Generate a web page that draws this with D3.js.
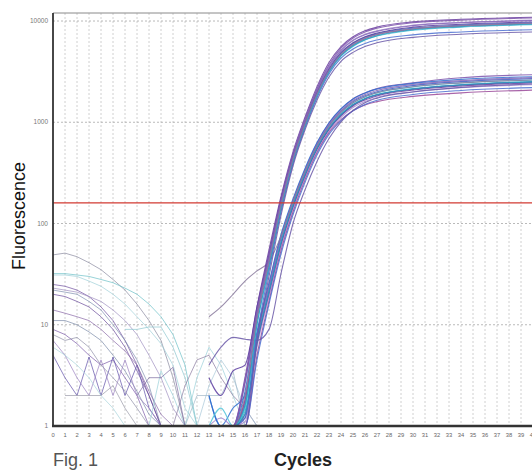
<!DOCTYPE html>
<html>
<head>
<meta charset="utf-8">
<title>Fluorescence vs Cycles</title>
<script src="https://d3js.org/d3.v7.min.js"></script>
<style>
  body { margin: 0; background: #fff; }
  text { font-family: "Liberation Sans", Arial, Helvetica, sans-serif; }
</style>
</head>
<body>
<div id="chart"></div>
<script>

// tick labels
var cycleTicks = d3.range(0, 41);
var fluorTicks = [1, 10, 100, 1000, 10000];
var threshold = 160;

// amplification curves: readings at these cycles
var ampCycles = [13, 14, 15, 16, 17, 18, 19, 20, 21, 22, 23, 24, 25, 26, 27, 30, 34, 40];

var upper1  = [1, 1, 1, 3, 15, 55, 185, 510, 1120, 2250, 3900, 5600, 7000, 8000, 8700, 9800, 10400, 10900];
var upper2  = [1, 1.2, 1, 2.6, 13, 48, 170, 480, 1050, 2100, 3600, 5200, 6500, 7400, 8000, 9100, 9700, 10200];
var upper3  = [2, 1, 1, 2.2, 12, 44, 155, 440, 980, 1950, 3300, 4800, 6000, 6900, 7500, 8500, 9100, 9600];
var upper4  = [1, 1, 1, 1.8, 11, 40, 145, 420, 950, 1900, 3200, 4600, 5800, 6700, 7300, 8300, 8900, 9400];
var upper5  = [1, 1.5, 1, 1.5, 10, 36, 135, 400, 900, 1800, 3100, 4500, 5600, 6500, 7100, 8100, 8700, 9200];
var upper6  = [3, 2, 3.5, 4, 15, 50, 175, 470, 1000, 2000, 3400, 4900, 6100, 7000, 7600, 8700, 9300, 9800];
var upper7  = [1, 1, 1, 1.2, 8, 34, 130, 390, 880, 1750, 3000, 4300, 5300, 6000, 6500, 7300, 7800, 8200];
var upper8  = [1, 1, 1, 2.8, 13, 46, 165, 460, 1020, 2050, 3500, 5100, 6400, 7300, 7900, 9000, 9600, 10100];
var upper9  = [1, 1, 1, 1.6, 10, 38, 140, 410, 920, 1850, 3150, 4550, 5700, 6550, 7150, 8200, 8800, 9300];
var upper10 = [1, 1, 1, 2, 12, 42, 150, 430, 960, 1900, 3250, 4700, 5900, 6800, 7400, 8400, 9000, 9500];
var upper11 = [1, 1, 1, 1, 7, 30, 120, 370, 840, 1650, 2800, 4000, 4900, 5600, 6100, 6900, 7400, 7800];
var upper12 = [1, 1, 1, 2.7, 14, 50, 175, 490, 1080, 2150, 3700, 5400, 6800, 7800, 8500, 9600, 10200, 10700];

var lower1  = [1, 1, 1, 1.8, 8, 25, 75, 170, 340, 620, 980, 1350, 1700, 1950, 2150, 2450, 2750, 2950];
var lower2  = [1, 1, 1, 1.6, 7.5, 23, 70, 160, 320, 590, 930, 1280, 1600, 1830, 2000, 2300, 2520, 2700];
var lower3  = [1, 1, 1, 1.4, 7, 22, 66, 152, 310, 560, 880, 1200, 1500, 1720, 1880, 2150, 2350, 2520];
var lower4  = [1, 1, 1, 1.2, 6.5, 20, 62, 145, 295, 540, 850, 1160, 1450, 1660, 1820, 2080, 2280, 2450];
var lower5  = [1, 1, 1, 1.1, 6, 19, 58, 138, 285, 520, 820, 1120, 1400, 1600, 1760, 2000, 2200, 2350];
var lower6  = [2, 1, 1.5, 2, 8.5, 26, 78, 175, 350, 630, 990, 1360, 1700, 1950, 2130, 2420, 2650, 2820];
var lower7  = [1, 1, 1, 1, 5, 17, 54, 130, 270, 500, 790, 1060, 1300, 1480, 1600, 1800, 1950, 2080];
var lower8  = [1, 1, 1, 1.5, 7.2, 22, 67, 155, 315, 575, 900, 1240, 1550, 1780, 1950, 2230, 2440, 2610];
var lower9  = [1, 1, 1, 1.3, 6.6, 21, 63, 148, 300, 550, 860, 1180, 1480, 1700, 1860, 2120, 2330, 2500];
var lower10 = [1, 1, 1, 1, 4.5, 16, 50, 122, 255, 475, 760, 1040, 1300, 1500, 1650, 1880, 2060, 2200];
var lower11 = [1, 1, 1, 1.7, 7.8, 24, 72, 165, 330, 600, 950, 1300, 1640, 1880, 2060, 2360, 2580, 2760];
var lower12 = [1, 1, 1, 1.3, 6.8, 21, 64, 150, 305, 555, 870, 1190, 1490, 1710, 1870, 2130, 2340, 2510];
var lower13 = [12, 15, 20, 27, 34, 42, 75, 165, 325, 585, 910, 1250, 1560, 1790, 1960, 2240, 2450, 2620];
var lower14 = [4, 6, 7.5, 7.2, 7, 9, 32, 100, 215, 410, 690, 1010, 1310, 1560, 1730, 1990, 2210, 2390];

// baseline noise, cycles 0..17 (null = not drawn)
var noise1  = [49, 51, 47, 41, 35, 28, 22, 16, 11, 7, 3, 1, null, null, null, null, null, null];
var noise2  = [32, 32, 31, 30, 28, 26, 23, 20, 16, 12, 8, 4, 1, null, null, null, null, null];
var noise3  = [31, 31, 30, 27, 24, 20, 16, 12, 9, 6.5, 4, 1.5, 1, null, null, null, null, null];
var noise4  = [25, 24, 22, 19, 15, 11, 7, 4, 2, 1, null, null, null, null, null, null, null, null];
var noise5  = [22, 21, 20, 17, 14, 10, 7, 4.5, 2.5, 1, null, null, null, null, null, null, null, null];
var noise6  = [20, 19, 17, 15, 12, 9, 6, 3.5, 2, 1, null, null, null, null, null, null, null, null];
var noise7  = [23, 22, 21, 19, 17, 14, 11, 8, 5, 3, 1.5, 1, null, null, null, null, null, null];
var noise8  = [11, 11, 10, 8.5, 7, 5, 3.5, 2.2, 1.3, 1, null, null, null, null, null, null, null, null];
var noise9  = [9, 8, 6.5, 5, 4, 4.5, 3, 2, 1, null, null, null, null, null, null, null, null, null];
var noise10 = [5, 3, 2, 4.8, 2, 4.8, 2, 4, 1.5, 1, null, null, null, null, null, null, null, null];
var noise11 = [7, 5, 3, 2, 4.5, 2, 4.5, 2, 1.5, 1, null, null, null, null, null, null, null, null];
var noise12 = [null, 2, 2, 2, 2, 2.5, 1.5, 1, null, null, null, null, null, null, null, null, null, null];
var noise13 = [6, 5, 4, 3, 2, 1.5, 1, null, null, null, null, null, null, null, null, null, null, null];
var noise14 = [null, null, null, null, null, null, 9, 9, 9.5, 9.5, 6, 3, 1, null, null, null, null, null];
var noise15 = [14, 13, 12, 11, 9, 7, 5.5, 4, 2.2, 1.3, 1, null, null, null, null, null, null, null];
var noise16 = [8, 7, 7.5, 6, 4, 3, 2.2, 1.5, 1, null, null, null, null, null, null, null, null, null];
var noise17 = [null, null, null, null, null, null, null, null, 1, 3.5, 2, 1, 3, 6, 4, 2, 1, null];
var noise18 = [null, null, null, null, null, null, null, null, null, null, 1, 2.5, 4.5, 5, 3, 2, 1.5, 1];
var noise19 = [null, null, null, null, null, null, null, null, null, null, null, null, 1, 2.5, 4.5, 3, 1.5, 1];
var noise20 = [null, null, null, null, null, null, null, 2, 3, 3, 3.8, 1, null, null, null, null, null, null];
var noise21 = [null, null, null, null, null, null, null, null, null, null, null, 1, 2, 2, 2, 3.5, 1, null];

var upperSet = [upper1, upper2, upper3, upper4, upper5, upper6, upper7, upper8, upper9, upper10, upper11, upper12];
var lowerSet = [lower1, lower2, lower3, lower4, lower5, lower6, lower7, lower8, lower9, lower10, lower11, lower12, lower13, lower14];
var noiseSet = [noise1, noise2, noise3, noise4, noise5, noise6, noise7, noise8, noise9, noise10, noise11,
                noise12, noise13, noise14, noise15, noise16, noise17, noise18, noise19, noise20, noise21];

var ampColors = ["#7b52ab", "#3d5cc4", "#33b3cc", "#6b3fa0", "#a48ad0", "#2f6fd0", "#9a4a9a",
                 "#4fc3d8", "#5a3aa0", "#4a6fd0", "#8668b8", "#2c9fc0", "#8a7a9e", "#6a58a8"];
var noiseColors = ["#8a8aa0", "#6cc0c8", "#9fd0d8", "#7050a0", "#8090b0", "#6a4a9a", "#a090c0", "#7a8aa8", "#7a5aa8", "#6050a8",
                   "#9a80c0", "#9a9aa8", "#a8d4dc", "#8fc8d0", "#8a6aa8", "#9090a8", "#9ad0d8", "#8a7aa0", "#a8c8d8", "#7a6aa0", "#9fb8c8"];

var W = 532, H = 473;
var margin = {top: 13, left: 53, bottom: 47};

var svg = d3.select("#chart")
  .append("svg")
    .attr("width", W)
    .attr("height", H);

var x = d3.scaleLinear()
    .domain([0, 40])
    .range([margin.left, 533]);

var y = d3.scaleLog()
    .domain([1, 12000])
    .range([H - margin.bottom, margin.top]);

svg.append("clipPath")
    .attr("id", "plot")
  .append("rect")
    .attr("x", margin.left)
    .attr("y", margin.top)
    .attr("width", W - margin.left)
    .attr("height", y(1) - margin.top);

// grid
svg.append("g").selectAll("line")
    .data(cycleTicks.slice(1))
  .enter().append("line")
    .attr("x1", function(d) { return x(d); })
    .attr("x2", function(d) { return x(d); })
    .attr("y1", margin.top)
    .attr("y2", y(1))
    .style("stroke", "#c4c4c4")
    .style("stroke-width", 0.8)
    .style("stroke-dasharray", "2,2");

svg.append("g").selectAll("line")
    .data(fluorTicks.slice(1))
  .enter().append("line")
    .attr("x1", margin.left)
    .attr("x2", W)
    .attr("y1", function(d) { return y(d); })
    .attr("y2", function(d) { return y(d); })
    .style("stroke", "#a8a8a8")
    .style("stroke-width", 0.8)
    .style("stroke-dasharray", "2,2");

// curves
var noiseLine = d3.line()
    .defined(function(d) { return d != null; })
    .x(function(d, i) { return x(i); })
    .y(function(d) { return y(d); });

var ampLine = d3.line()
    .x(function(d, i) { return x(ampCycles[i]); })
    .y(function(d) { return y(d); })
    .curve(d3.curveMonotoneX);

var curves = svg.append("g").attr("clip-path", "url(#plot)");

curves.selectAll(".noise")
    .data(noiseSet)
  .enter().append("path")
    .attr("class", "noise")
    .attr("d", noiseLine)
    .style("fill", "none")
    .style("stroke", function(d, i) { return noiseColors[i]; })
    .style("stroke-width", 1)
    .style("opacity", 0.7);

curves.selectAll(".lower")
    .data(lowerSet)
  .enter().append("path")
    .attr("class", "lower")
    .attr("d", ampLine)
    .style("fill", "none")
    .style("stroke", function(d, i) { return ampColors[i % ampColors.length]; })
    .style("stroke-width", 1.1)
    .style("opacity", 0.85);

curves.selectAll(".upper")
    .data(upperSet)
  .enter().append("path")
    .attr("class", "upper")
    .attr("d", ampLine)
    .style("fill", "none")
    .style("stroke", function(d, i) { return ampColors[(i + 3) % ampColors.length]; })
    .style("stroke-width", 1.1)
    .style("opacity", 0.85);

// threshold
svg.append("line")
    .attr("x1", margin.left)
    .attr("x2", W)
    .attr("y1", y(threshold))
    .attr("y2", y(threshold))
    .style("stroke", "#d23a32")
    .style("stroke-width", 1.4);

// frame
svg.append("line")
    .attr("x1", margin.left).attr("x2", W)
    .attr("y1", margin.top).attr("y2", margin.top)
    .style("stroke", "#8a8a8a")
    .style("stroke-width", 1);

svg.append("line")
    .attr("x1", margin.left).attr("x2", margin.left)
    .attr("y1", margin.top).attr("y2", y(1))
    .style("stroke", "#333")
    .style("stroke-width", 1.8);

svg.append("line")
    .attr("x1", margin.left - 1).attr("x2", W)
    .attr("y1", y(1)).attr("y2", y(1))
    .style("stroke", "#333")
    .style("stroke-width", 2.4);

// tick labels
svg.append("g").selectAll("text")
    .data(fluorTicks)
  .enter().append("text")
    .attr("x", 48)
    .attr("y", function(d) { return y(d) + 2; })
    .style("text-anchor", "end")
    .style("font-size", "6.5px")
    .style("fill", "#777")
    .text(function(d) { return d; });

svg.append("g").selectAll("text")
    .data(cycleTicks)
  .enter().append("text")
    .attr("x", function(d) { return x(d); })
    .attr("y", y(1) + 11)
    .style("text-anchor", "middle")
    .style("font-size", "5.8px")
    .style("fill", "#666")
    .text(function(d) { return d; });

// titles
svg.append("text")
    .attr("transform", "translate(25,216) rotate(-90)")
    .style("text-anchor", "middle")
    .style("font-size", "18px")
    .style("fill", "#111")
    .text("Fluorescence");

svg.append("text")
    .attr("x", 303)
    .attr("y", 466)
    .style("text-anchor", "middle")
    .style("font-size", "18px")
    .style("font-weight", "bold")
    .style("fill", "#222")
    .text("Cycles");

svg.append("text")
    .attr("x", 53)
    .attr("y", 466)
    .style("font-size", "18px")
    .style("fill", "#555")
    .text("Fig. 1");

</script>
</body>
</html>
